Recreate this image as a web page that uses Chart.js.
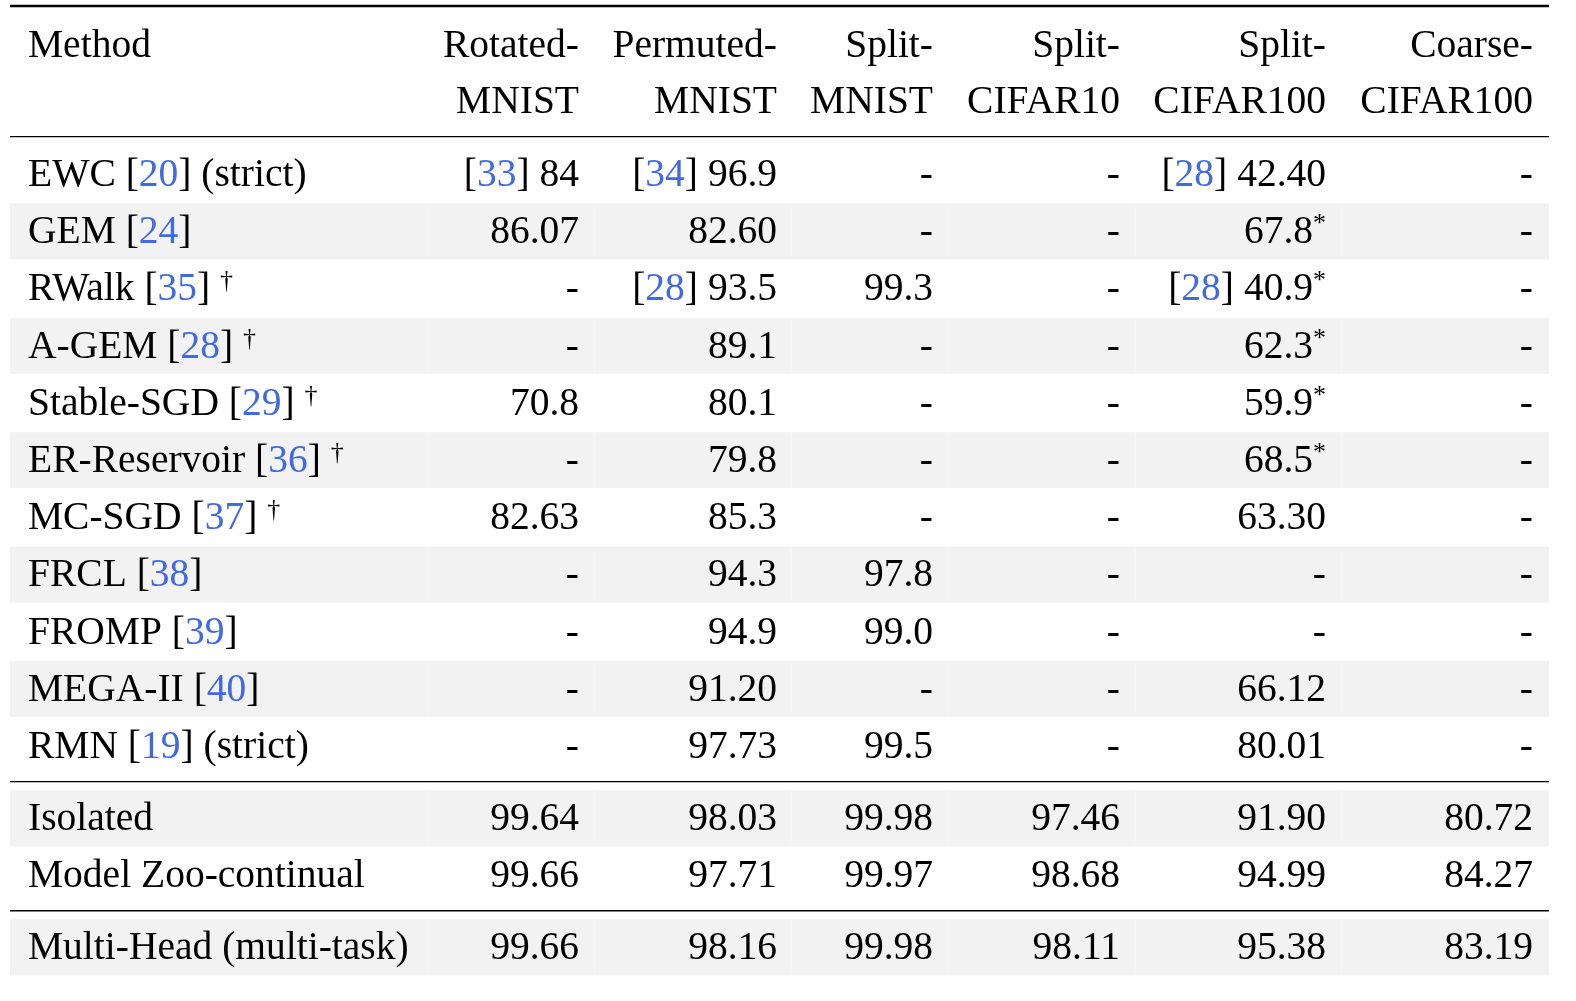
<!DOCTYPE html>
<html>
<head>
<meta charset="utf-8">
<script src="https://cdn.jsdelivr.net/npm/chart.js@4.4.0/dist/chart.umd.min.js"></script>
<style>
  html, body { margin: 0; background: #fff; }
  #wrap { width: 1576px; height: 1001px; position: relative; }
</style>
</head>
<body>
<div id="wrap"><canvas id="tbl"></canvas></div>
<script>
// table content ([n] = blue citation, ^x = superscript mark)
const headTop = ["Method", "Rotated-", "Permuted-", "Split-", "Split-", "Split-", "Coarse-"];
const headBottom = ["", "MNIST", "MNIST", "MNIST", "CIFAR10", "CIFAR100", "CIFAR100"];
const methods = ["EWC [20] (strict)", "GEM [24]", "RWalk [35] ^†", "A-GEM [28] ^†", "Stable-SGD [29] ^†",
  "ER-Reservoir [36] ^†", "MC-SGD [37] ^†", "FRCL [38]", "FROMP [39]", "MEGA-II [40]", "RMN [19] (strict)",
  "Isolated", "Model Zoo-continual", "Multi-Head (multi-task)"];
const rotatedMnist = ["[33] 84", "86.07", "-", "-", "70.8", "-", "82.63", "-", "-", "-", "-", "99.64", "99.66", "99.66"];
const permutedMnist = ["[34] 96.9", "82.60", "[28] 93.5", "89.1", "80.1", "79.8", "85.3", "94.3", "94.9", "91.20", "97.73", "98.03", "97.71", "98.16"];
const splitMnist = ["-", "-", "99.3", "-", "-", "-", "-", "97.8", "99.0", "-", "99.5", "99.98", "99.97", "99.98"];
const splitCifar10 = ["-", "-", "-", "-", "-", "-", "-", "-", "-", "-", "-", "97.46", "98.68", "98.11"];
const splitCifar100 = ["[28] 42.40", "67.8^*", "[28] 40.9^*", "62.3^*", "59.9^*", "68.5^*", "63.30", "-", "-", "66.12", "80.01", "91.90", "94.99", "95.38"];
const coarseCifar100 = ["-", "-", "-", "-", "-", "-", "-", "-", "-", "-", "-", "80.72", "84.27", "83.19"];

const columns = [methods, rotatedMnist, permutedMnist, splitMnist, splitCifar10, splitCifar100, coarseCifar100];

// layout (y in row units, x in pixels)
const rowPos = methods.map((m, i) => i <= 10 ? i : (i <= 12 ? 11.26 + (i - 11) : 13.52));
const headPos = [-2.26, -1.28];
const rules = [[-2.946, 2.6], [-0.661, 1.3], [10.615, 1.3], [12.871, 1.3]];
const colLeft = [10, 427, 594, 791, 947, 1135, 1341];
const colRight = [28, 579, 777, 933, 1120, 1326, 1533];
const tableRight = 1549;

const FONT = '"Liberation Serif", "Times New Roman", serif';
const BLUE = "rgb(65,105,225)";

function parse(s) {
  const out = [];
  const re = /\[(\d+)\]|\^(.)|([^\[\^]+)/g;
  let m;
  while ((m = re.exec(s))) {
    if (m[1]) {
      out.push({ t: "[" }, { t: m[1], c: BLUE }, { t: "]" });
    } else if (m[2]) {
      out.push({ t: m[2], sup: true });
    } else {
      out.push({ t: m[3] });
    }
  }
  return out;
}

function drawCell(ctx, s, x, y, right) {
  const segs = parse(s);
  const big = "39.5px " + FONT, small = "26px " + FONT;
  let w = 0;
  segs.forEach(g => { ctx.font = g.sup ? small : big; g.w = ctx.measureText(g.t).width; w += g.w; });
  let cx = right ? x - w : x;
  ctx.textAlign = "left";
  ctx.textBaseline = "alphabetic";
  segs.forEach(g => {
    ctx.font = g.sup ? small : big;
    ctx.fillStyle = g.c || "#000";
    ctx.fillText(g.t, cx, g.sup ? y - 12 : y);
    cx += g.w;
  });
}

const tablePlugin = {
  id: "tablePlugin",
  afterDraw(chart) {
    const ctx = chart.ctx;
    const xs = chart.scales.x, ys = chart.scales.y;
    const X = v => xs.getPixelForValue(v);
    const Y = v => ys.getPixelForValue(v);
    ctx.save();
    ctx.fillStyle = "#fff";
    ctx.fillRect(0, 0, chart.width, chart.height);

    // shaded rows
    rowPos.forEach((p, i) => {
      if (i % 2 !== 1) return;
      const top = Y(p - 0.495), bot = Y(p + 0.485);
      ctx.fillStyle = "#f2f2f2";
      ctx.fillRect(X(colLeft[0]), top, X(tableRight) - X(colLeft[0]), bot - top);
      ctx.fillStyle = "#f5f5f5";
      colLeft.slice(1).forEach(c => ctx.fillRect(X(c), top, 1, bot - top));
    });

    // rules
    rules.forEach(([p, lw]) => {
      ctx.strokeStyle = "#000";
      ctx.lineWidth = lw;
      ctx.beginPath();
      ctx.moveTo(X(colLeft[0]), Y(p));
      ctx.lineTo(X(tableRight), Y(p));
      ctx.stroke();
    });

    const base = 11.5;
    // header
    headTop.forEach((h, c) => drawCell(ctx, h, X(colRight[c]), Y(headPos[0]) + base, c > 0));
    headBottom.forEach((h, c) => { if (h) drawCell(ctx, h, X(colRight[c]), Y(headPos[1]) + base, c > 0); });

    // body
    columns.forEach((col, c) => {
      col.forEach((s, r) => drawCell(ctx, s, X(colRight[c]), Y(rowPos[r]) + base, c > 0));
    });
    ctx.restore();
  }
};

new Chart(document.getElementById("tbl"), {
  type: "scatter",
  data: { datasets: [] },
  options: {
    responsive: true,
    maintainAspectRatio: false,
    animation: false,
    devicePixelRatio: 1,
    layout: { padding: 0 },
    plugins: { legend: { display: false }, tooltip: { enabled: false } },
    scales: {
      x: { type: "linear", min: 0, max: 1576, display: false },
      y: { type: "linear", min: -3.051, max: 14.449, reverse: true, display: false }
    }
  },
  plugins: [tablePlugin]
});
</script>
</body>
</html>
